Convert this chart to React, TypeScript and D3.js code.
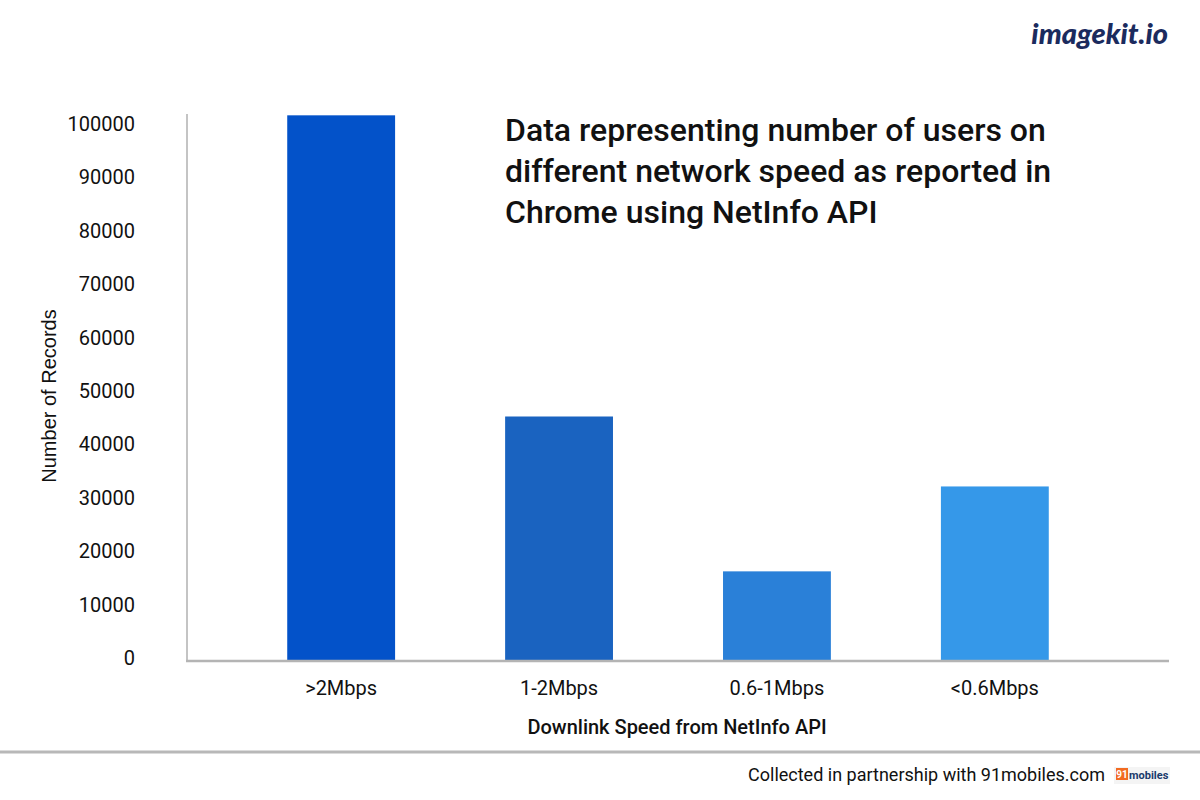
import React from "react";
import * as d3 from "d3";

const categories = [">2Mbps", "1-2Mbps", "0.6-1Mbps", "<0.6Mbps"];
const records = [102000, 45600, 16600, 32500];
const barColors = ["#0352C9", "#1A63C0", "#2A80D8", "#3598E9"];
const yTicks = [0, 10000, 20000, 30000, 40000, 50000, 60000, 70000, 80000, 90000, 100000];
const titleLines = [
  "Data representing number of users on",
  "different network speed as reported in",
  "Chrome using NetInfo API",
];

export default function App() {
  const W = 1200, H = 800;
  const axisX = 187, axisRight = 1169, baseY = 660;
  const y = d3.scaleLinear().domain([0, 100000]).range([baseY, 126]);
  const x = d3.scaleBand<string>().domain(categories).range([axisX, 1149]).paddingInner(0.505).paddingOuter(0.46);
  const font = "Roboto, 'Liberation Sans', sans-serif";
  return (
    <svg width={W} height={H} style={{ position: "absolute", left: 0, top: 0, background: "#fff" }} fontFamily={font}>
      <rect x={0} y={0} width={W} height={H} fill="#fff" />
      {/* logo */}
      <text x={1168} y={44} textAnchor="end" fontFamily="Lato, 'DejaVu Serif', serif" fontStyle="italic" fontWeight={900} fontSize={29} fill="#1B2B5E">imagekit.io</text>
      {/* bars */}
      {categories.map((c, i) => (
        <rect key={c} x={x(c)} y={y(records[i])} width={x.bandwidth()} height={baseY - y(records[i])} fill={barColors[i]} />
      ))}
      {/* axes */}
      <line x1={axisX} x2={axisX} y1={114} y2={baseY + 1} stroke="#c4c4c4" strokeWidth={2} />
      <line x1={axisX - 1} x2={axisRight} y1={baseY + 1} y2={baseY + 1} stroke="#b4b4b4" strokeWidth={2.5} />
      {yTicks.map((t) => (
        <text key={t} x={135} y={y(t) - 2} dy="0.35em" textAnchor="end" fontSize={20} fill="#111">{t}</text>
      ))}
      <text transform={`translate(56,396) rotate(-90)`} textAnchor="middle" fontFamily="'Liberation Sans', Arial, sans-serif" fontSize={20} fill="#111">Number of Records</text>
      {categories.map((c) => (
        <text key={c} x={(x(c) as number) + x.bandwidth() / 2} y={695} textAnchor="middle" fontSize={20} fill="#111">{c}</text>
      ))}
      <text x={677} y={734} textAnchor="middle" fontSize={20} fontWeight={500} fill="#111">Downlink Speed from NetInfo API</text>
      {/* title */}
      {titleLines.map((l, i) => (
        <text key={i} x={505} y={141 + i * 41} fontSize={32} fontWeight={500} fill="#111">{l}</text>
      ))}
      {/* footer */}
      <line x1={0} x2={W} y1={752} y2={752} stroke="#b8b8b8" strokeWidth={3} />
      <text x={1105} y={781} textAnchor="end" fontSize={18} fill="#111">Collected in partnership with 91mobiles.com</text>
      <rect x={1114} y={767} width={56} height={17} fill="#f4f4f4" />
      <rect x={1116} y={768} width={12} height={12} fill="#F26B21" />
      <text x={1122} y={778} textAnchor="middle" fontSize={10} fontWeight={700} fill="#fff">91</text>
      <text x={1129} y={779} fontSize={11} fontWeight={700} fill="#1B3A6B">mobiles</text>
    </svg>
  );
}
